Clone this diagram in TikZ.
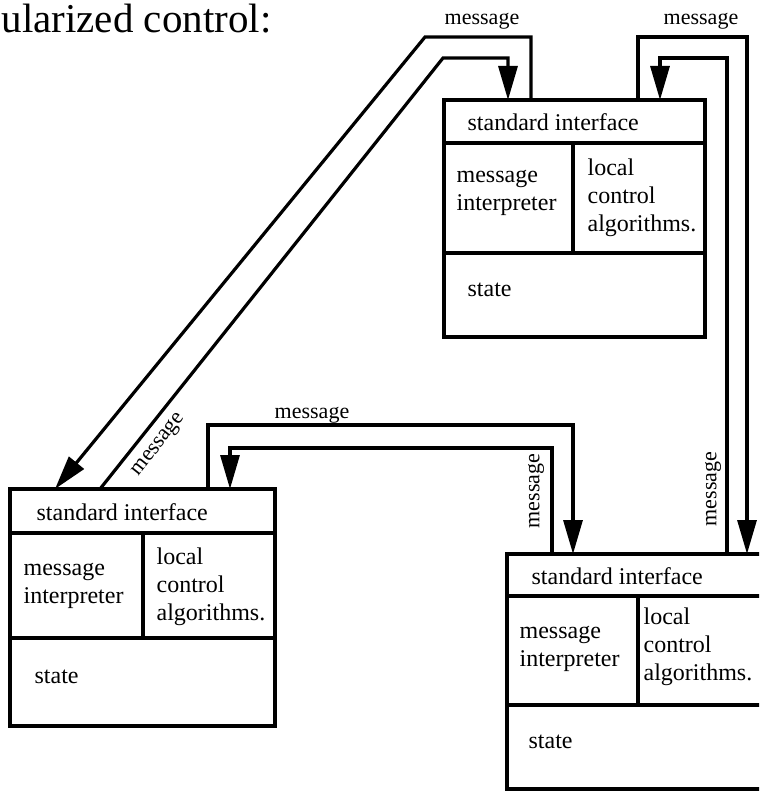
\documentclass[tikz,border=0pt]{standalone}
\usepackage{fontspec}
\setmainfont{Liberation Serif}
\usetikzlibrary{arrows.meta,calc}
\tikzset{
  module/.style={draw, rectangle, inner sep=0pt, outer sep=0pt, minimum height=118.5pt},
  conn/.style={line width=1.6pt},
  arr/.style={conn, -{Triangle[length=17pt,width=9.5pt]}},
  txt/.style={anchor=west, inner sep=0pt, align=left, font=\fontsize{12}{14}\selectfont},
  lbl/.style={inner sep=0pt, font=\fontsize{11}{13}\selectfont},
  title/.style={anchor=base west, inner sep=0pt, font=\fontsize{20.5}{24}\selectfont}
}
\begin{document}
\begin{tikzpicture}[x=0.5pt,y=-0.5pt,line width=1.6pt]
\useasboundingbox (0,0) rectangle (759,791);
\clip (0,0) rectangle (759,791);
\fill[white] (0,0) rectangle (759,791);

\node[title] (ttl) at (0,33) {ularized control:};

% module A (top)
\node[module, minimum width=130.5pt, anchor=north west] (A) at (444,100) {};
\draw (444,143) -- (705,143) (444,253) -- (705,253) (573,143) -- (573,253);
\node[txt] (Ai) at (466,122) {standard interface};
\node[txt] (Am) at (455,193) {message\\interpreter};
\node[txt] (Al) at (586,198) {local\\control\\algorithms.};
\node[txt] (As) at (466,290) {state};

% module B (left)
\node[module, minimum width=132.5pt, anchor=north west] (B) at (10,489) {};
\draw (10,533) -- (275,533) (10,638) -- (275,638) (143,533) -- (143,638);
\node[txt] (Bi) at (35,512) {standard interface};
\node[txt] (Bm) at (22,586) {message\\interpreter};
\node[txt] (Bl) at (155,587) {local\\control\\algorithms.};
\node[txt] (Bs) at (33,677) {state};

% module C (bottom right)
\node[module, minimum width=132.5pt, minimum height=117.5pt, anchor=north west] (C) at (507,554) {};
\draw (507,596) -- (772,596) (507,705) -- (772,705) (638,596) -- (638,705);
\node[txt] (Ci) at (530,576) {standard interface};
\node[txt] (Cm) at (518,649) {message\\interpreter};
\node[txt] (Cl) at (642,647) {local\\control\\algorithms.};
\node[txt] (Cs) at (527,742) {state};

% A <-> B
\draw[arr] ($(A.north west)+(87,0)$) -- (531,37) -- (425,37) -- ($(B.north west)+(45,0)$);
\draw[arr] ($(B.north west)+(90,0)$) -- (443,58) -- (508,58) -- ($(A.north west)+(64,0)$);
% A <-> C
\draw[arr] ($(A.north west)+(194,0)$) -- (638,37) -- (747,37) -- ($(C.north west)+(240,0)$);
\draw[arr] ($(C.north west)+(220,0)$) -- (727,58) -- (660,58) -- ($(A.north west)+(216,0)$);
% B <-> C
\draw[arr] ($(B.north west)+(198,0)$) -- (208,425) -- (573,425) -- ($(C.north west)+(66,0)$);
\draw[arr] ($(C.north west)+(45,0)$) -- (552,448) -- (230,448) -- ($(B.north west)+(220,0)$);

% labels
\node[lbl, anchor=base] (m1) at (482,25) {message};
\node[lbl, anchor=base] (m2) at (701,25) {message};
\node[lbl, anchor=base] (m3) at (312,418) {message};
\node[lbl, rotate=51.5] (m4) at (159,445) {message};
\node[lbl, rotate=90] (m5) at (536,491) {message};
\node[lbl, rotate=90] (m6) at (713,489) {message};
\end{tikzpicture}
\end{document}
